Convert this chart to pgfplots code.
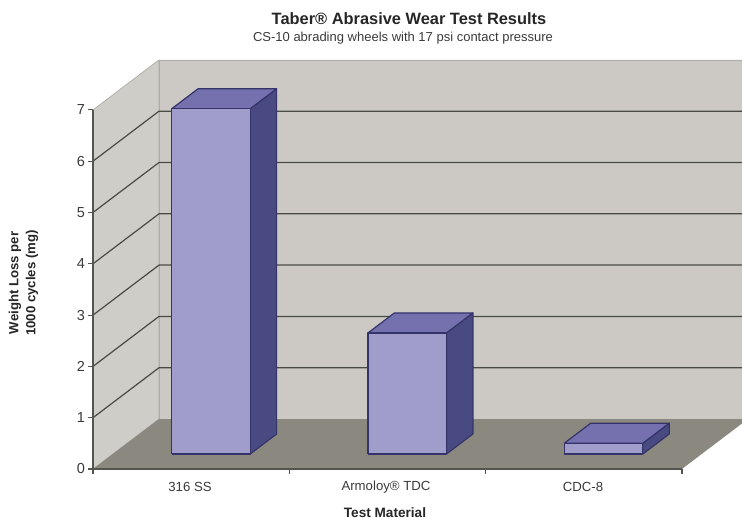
\documentclass[border=0pt]{standalone}
\usepackage{pgfplots}
\pgfplotsset{compat=1.18}
\usepackage{fontspec}
\setmainfont{Liberation Sans}

\definecolor{wallback}{HTML}{CCC9C4}
\definecolor{wallleft}{HTML}{CFCDC8}
\definecolor{walledge}{HTML}{AEACA6}
\definecolor{floorc}{HTML}{8B887F}
\definecolor{gridc}{HTML}{4A4A44}
\definecolor{barfront}{HTML}{A09DCB}
\definecolor{bartop}{HTML}{7471AE}
\definecolor{barside}{HTML}{4A4A82}
\definecolor{baredge}{HTML}{34346A}
\definecolor{axisc}{HTML}{55554F}
\definecolor{textc}{HTML}{3A3A3A}

% one column: left edge, right edge, value
\newcommand{\column}[3]{
	\addplot3[draw=baredge, fill=barside] coordinates {
		(#2,0.3,0) (#2,0.7,0) (#2,0.7,#3) (#2,0.3,#3) (#2,0.3,0)
	};
	\addplot3[draw=baredge, fill=bartop] coordinates {
		(#1,0.3,#3) (#2,0.3,#3) (#2,0.7,#3) (#1,0.7,#3) (#1,0.3,#3)
	};
	\addplot3[draw=baredge, fill=barfront] coordinates {
		(#1,0.3,0) (#2,0.3,0) (#2,0.3,#3) (#1,0.3,#3) (#1,0.3,0)
	};
}

\begin{document}
\begin{tikzpicture}[x=1pt, y=1pt]
\path[use as bounding box] (0,0) rectangle (742,520);
\begin{axis}[
	at = {(93pt,51pt)},
	anchor = origin,
	x = {(196.3pt,0pt)},
	y = {(66pt,50pt)},
	z = {(0pt,51.3pt)},
	xmin = 0, xmax = 3,
	ymin = 0, ymax = 1,
	zmin = 0, zmax = 7,
	clip = false,
	no marks,
	axis lines = none,
	every axis plot/.append style = {line width = 1.2pt, line join = round},
]
% walls and floor
\addplot3[draw=walledge, fill=wallleft, line width=0.7pt] coordinates {
	(0,0,0) (0,1,0) (0,1,7) (0,0,7) (0,0,0)
};
\addplot3[draw=walledge, fill=wallback, line width=0.7pt] coordinates {
	(0,1,0) (3,1,0) (3,1,7) (0,1,7) (0,1,0)
};
\addplot3[draw=none, fill=floorc] coordinates {
	(0,0,0) (3,0,0) (3,1,0) (0,1,0) (0,0,0)
};
% gridlines
\pgfplotsinvokeforeach{1,2,3,4,5,6}{
	\addplot3[gridc] coordinates {(0,0,#1) (0,1,#1) (3,1,#1)};
}
\column{0.3}{0.7}{6.73}
\column{1.3}{1.7}{2.36}
\column{2.3}{2.7}{0.21}
% axes with ticks
\addplot3[axisc, line width=1.2pt] coordinates {(0,0,7) (0,0,0) (3,0,0)};
\pgfplotsinvokeforeach{0,1,2,3,4,5,6,7}{
	\addplot3[axisc] coordinates {(-0.025,0,#1) (0,0,#1)}
		node[pos=0, anchor=east, inner sep=2.5pt, text=textc, font=\fontsize{14.5}{14.5}\selectfont] {#1};
}
\pgfplotsinvokeforeach{0,1,2,3}{
	\addplot3[axisc] coordinates {(#1,0,-0.1) (#1,0,0)};
}
\end{axis}
% titles and labels
\node[font=\bfseries\fontsize{16.4}{17}\selectfont, text=black!85] at (409,501) {Taber® Abrasive Wear Test Results};
\node[font=\fontsize{13}{13}\selectfont, text=textc] at (403,482) {CS-10 abrading wheels with 17 psi contact pressure};
\node[font=\fontsize{13.2}{13}\selectfont, text=textc] at (190,33) {316 SS};
\node[font=\fontsize{13.2}{13}\selectfont, text=textc] at (386,33) {Armoloy® TDC};
\node[font=\fontsize{13.2}{13}\selectfont, text=textc] at (583,33) {CDC-8};
\node[font=\bfseries\fontsize{13.6}{14}\selectfont, text=black!85] at (385,7) {Test Material};
\node[font=\bfseries\fontsize{13.2}{17}\selectfont, text=black!85, rotate=90, align=center] at (23.5,237) {Weight Loss per\\1000 cycles (mg)};
\end{tikzpicture}
\end{document}
